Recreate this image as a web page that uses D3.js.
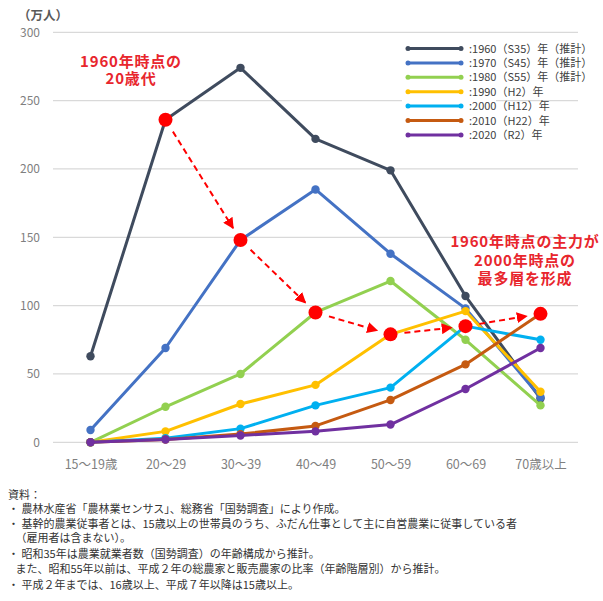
<!DOCTYPE html>
<html lang="ja">
<head>
<meta charset="utf-8">
<script src="https://cdn.jsdelivr.net/npm/d3@7/dist/d3.min.js"></script>
<style>
  html, body { margin: 0; padding: 0; background: #fff; }
  svg { display: block; font-family: "Noto Sans CJK JP", "Noto Sans", sans-serif; }
</style>
</head>
<body>
<svg id="chart" width="603" height="601"></svg>
<script>
// Age groups on the x axis
const ageGroups = ["15～19歳", "20～29", "30～39", "40～49", "50～59", "60～69", "70歳以上"];

// Core farm workers by age group (10,000 persons)
const y1960 = [63, 236, 274, 222, 199, 107, 32];
const y1970 = [9, 69, 148, 185, 138, 98, 33];
const y1980 = [0, 26, 50, 95, 118, 75, 27];
const y1990 = [0, 8, 28, 42, 79, 96, 37];
const y2000 = [0, 3, 10, 27, 40, 85, 75];
const y2010 = [0, 2, 6, 12, 31, 57, 94];
const y2020 = [0, 2, 5, 8, 13, 39, 69];

const seriesLabels = [":1960（S35）年（推計）", ":1970（S45）年（推計）", ":1980（S55）年（推計）",
  ":1990（H2）年", ":2000（H12）年", ":2010（H22）年", ":2020（R2）年"];
const seriesColors = ["#3f4b5e", "#4472c4", "#92d050", "#ffc000", "#00b0f0", "#c55a11", "#7030a0"];

const yTicks = [0, 50, 100, 150, 200, 250, 300];

// Cohort of 20-somethings in 1960, followed through each later survey: [series, age group]
const cohortPath = [[0, 1], [1, 2], [2, 3], [3, 4], [4, 5], [5, 6]];

const notes = [
  "資料：",
  "・ 農林水産省「農林業センサス」、総務省「国勢調査」により作成。",
  "・ 基幹的農業従事者とは、15歳以上の世帯員のうち、ふだん仕事として主に自営農業に従事している者",
  "   （雇用者は含まない）。",
  "・ 昭和35年は農業就業者数（国勢調査）の年齢構成から推計。",
  "   また、昭和55年以前は、平成２年の総農家と販売農家の比率（年齢階層別）から推計。",
  "・ 平成２年までは、16歳以上、平成７年以降は15歳以上。"
];

const series = [y1960, y1970, y1980, y1990, y2000, y2010, y2020].map((v, i) => ({
  label: seriesLabels[i], color: seriesColors[i], values: v
}));

const svg = d3.select("#chart");
svg.append("rect").attr("width", 603).attr("height", 601).attr("fill", "#fff");

const x = d3.scalePoint().domain(ageGroups).range([53, 578]).padding(0.5);
const y = d3.scaleLinear().domain([0, 300]).range([442.3, 32.3]);

// Gridlines
svg.append("g").selectAll("line").data(yTicks).join("line")
  .attr("x1", 53).attr("x2", 578)
  .attr("y1", d => y(d)).attr("y2", d => y(d))
  .attr("stroke", "#d9d9d9").attr("stroke-width", 1.2);

// Y axis labels
const yAxis = svg.append("g").attr("transform", "translate(42,0)")
  .call(d3.axisLeft(y).tickValues(yTicks).tickSize(0).tickPadding(2));
yAxis.select(".domain").remove();
yAxis.selectAll("text").attr("fill", "#7f7f7f").attr("font-size", 12)
  .attr("font-family", "'Noto Sans CJK JP', sans-serif");

svg.append("text").attr("x", 18).attr("y", 20).text("（万人）")
  .attr("font-size", 12.5).attr("font-weight", "bold").attr("fill", "#595959");

// X axis labels
const xAxis = svg.append("g").attr("transform", "translate(0,460)")
  .call(d3.axisBottom(x).tickSize(0).tickPadding(0));
xAxis.select(".domain").remove();
xAxis.selectAll("text").attr("fill", "#7f7f7f").attr("font-size", 12.5)
  .attr("font-family", "'Noto Sans CJK JP', sans-serif");

// Legend
const legend = svg.append("g");
legend.append("rect").attr("x", 402).attr("y", 40).attr("width", 94).attr("height", 102).attr("fill", "#fff");
series.forEach((s, i) => {
  const ly = 48.5 + i * 14.4;
  const g = legend.append("g");
  g.append("line").attr("x1", 408).attr("x2", 461).attr("y1", ly).attr("y2", ly)
    .attr("stroke", s.color).attr("stroke-width", 3);
  g.selectAll("circle").data([408, 461]).join("circle")
    .attr("cx", d => d).attr("cy", ly).attr("r", 2.5).attr("fill", s.color);
  g.append("text").attr("x", 469).attr("y", ly + 4).text(s.label)
    .attr("font-size", 11).attr("fill", "#404040");
});

// Series lines and markers
const line = d3.line().x((d, i) => x(ageGroups[i])).y(d => y(d));
series.forEach(s => {
  const g = svg.append("g");
  g.append("path").datum(s.values).attr("d", line)
    .attr("fill", "none").attr("stroke", s.color).attr("stroke-width", 3)
    .attr("stroke-linejoin", "round");
  g.selectAll("circle").data(s.values).join("circle")
    .attr("cx", (d, i) => x(ageGroups[i])).attr("cy", d => y(d))
    .attr("r", 4.2).attr("fill", s.color);
});

// Cohort highlight: red markers joined by dashed arrows
const red = "#ff0000";
const cohort = cohortPath.map(([si, ci]) => ({ x: x(ageGroups[ci]), y: y(series[si].values[ci]) }));

svg.append("defs").append("marker")
  .attr("id", "arrow").attr("viewBox", "0 0 10 10").attr("refX", 9).attr("refY", 5)
  .attr("markerWidth", 5.5).attr("markerHeight", 5.5).attr("markerUnits", "strokeWidth")
  .attr("orient", "auto")
  .append("path").attr("d", "M0,0L10,5L0,10Z").attr("fill", red);

const arrows = svg.append("g");
for (let i = 0; i < cohort.length - 1; i++) {
  const a = cohort[i], b = cohort[i + 1];
  const dx = b.x - a.x, dy = b.y - a.y, len = Math.hypot(dx, dy);
  const ux = dx / len, uy = dy / len;
  const s0 = 14, s1 = 14;
  arrows.append("line")
    .attr("x1", a.x + ux * s0).attr("y1", a.y + uy * s0)
    .attr("x2", b.x - ux * s1).attr("y2", b.y - uy * s1)
    .attr("stroke", red).attr("stroke-width", 2).attr("stroke-dasharray", "6,4")
    .attr("marker-end", "url(#arrow)");
}
svg.append("g").selectAll("circle").data(cohort).join("circle")
  .attr("cx", d => d.x).attr("cy", d => d.y).attr("r", 7).attr("fill", red);

// Annotations
const annRed = "#e8262d";
function annotate(lines, cx, y0, dy) {
  const t = svg.append("text").attr("text-anchor", "middle")
    .attr("font-size", 15).attr("font-weight", "bold").attr("fill", annRed)
    .attr("letter-spacing", 0.8);
  lines.forEach((l, i) => t.append("tspan").attr("x", cx).attr("y", y0 + i * dy).text(l));
}
annotate(["1960年時点の", "20歳代"], 131, 67, 16.5);
annotate(["1960年時点の主力が", "2000年時点の", "最多層を形成"], 525, 247, 18.5);

// Source notes
const noteText = svg.append("g").attr("font-size", 11).attr("fill", "#333");
const noteY = [499, 513, 528, 542, 558, 573, 589];
notes.forEach((n, i) => {
  noteText.append("text").attr("x", 8).attr("y", noteY[i]).text(n)
    .attr("xml:space", "preserve").style("white-space", "pre");
});
</script>
</body>
</html>
